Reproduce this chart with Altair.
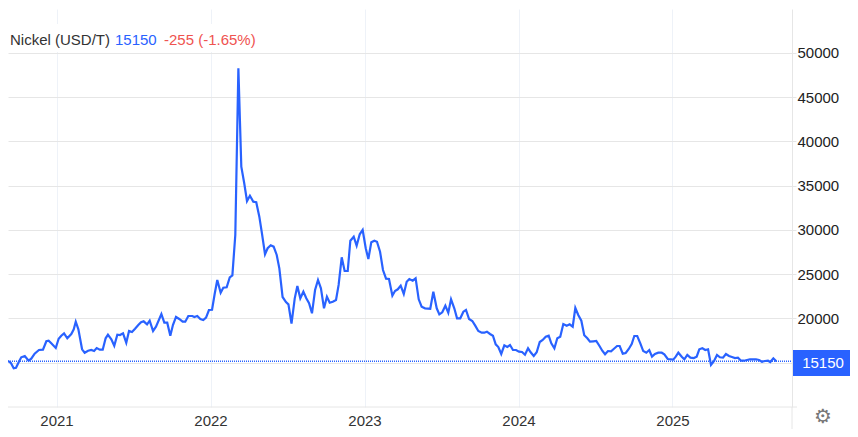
import altair as alt
import pandas as pd

years = [
2020.685,2020.703,2020.722,2020.737,2020.755,2020.771,2020.794,2020.819,2020.836,2020.858,2020.886,2020.912,2020.934,2020.949,2020.966,2020.995,
2021.014,2021.031,2021.049,2021.070,2021.096,2021.112,2021.125,2021.142,2021.166,2021.183,2021.205,2021.226,2021.244,2021.261,2021.281,2021.300,2021.319,2021.334,2021.356,2021.375,2021.395,2021.412,2021.432,2021.453,2021.471,2021.490,
2021.510,2021.531,2021.549,2021.566,2021.588,2021.605,2021.627,2021.646,2021.681,2021.700,2021.719,2021.739,2021.756,2021.776,2021.797,2021.819,2021.836,2021.856,2021.882,2021.895,2021.914,2021.934,2021.953,2021.971,2021.990,
2022.010,2022.027,2022.044,2022.066,2022.083,2022.105,2022.125,2022.142,2022.161,2022.181,2022.200,2022.219,2022.237,2022.256,2022.278,2022.297,2022.317,2022.334,2022.354,2022.371,2022.391,2022.410,2022.430,2022.447,2022.468,2022.490,2022.506,2022.526,2022.547,2022.564,2022.583,2022.603,2022.622,2022.640,2022.659,2022.679,2022.698,2022.717,2022.737,2022.756,2022.774,2022.794,2022.815,2022.832,2022.852,2022.871,2022.891,2022.908,2022.930,2022.949,2022.969,2022.988,
2023.008,2023.025,2023.044,2023.064,2023.081,2023.101,2023.120,2023.140,2023.159,2023.181,2023.198,2023.216,2023.235,2023.255,2023.274,2023.291,2023.313,2023.332,2023.352,2023.371,2023.393,2023.427,2023.447,2023.469,2023.486,2023.505,2023.525,2023.544,2023.562,2023.583,2023.601,2023.622,2023.642,2023.659,2023.679,2023.700,2023.719,2023.739,2023.761,2023.778,2023.795,2023.815,2023.834,2023.852,2023.869,2023.888,2023.908,2023.927,2023.945,2023.964,2023.984,
2024.003,2024.023,2024.042,2024.062,2024.079,2024.099,2024.118,2024.138,2024.157,2024.177,2024.196,2024.213,2024.233,2024.252,2024.271,2024.291,2024.313,2024.332,2024.352,2024.369,2024.388,2024.408,2024.427,2024.447,2024.464,2024.486,2024.505,2024.525,2024.544,2024.562,2024.581,2024.601,2024.620,2024.640,2024.657,2024.677,2024.696,2024.716,2024.735,2024.752,2024.771,2024.791,2024.810,2024.830,2024.849,2024.867,2024.886,2024.908,2024.930,2024.947,2024.969,
2025.005,2025.021,2025.038,2025.060,2025.077,2025.096,2025.116,2025.138,2025.157,2025.174,2025.194,2025.213,2025.231,2025.250,2025.270,2025.289,2025.308,2025.328,2025.347,2025.367,2025.386,2025.406,2025.425,2025.445,2025.464,2025.484,2025.503,2025.542,2025.562,2025.581,2025.601,2025.620,2025.635,2025.655,2025.674]

prices = [
15170,14980,14350,14410,15060,15590,15740,15205,15430,16000,16415,16450,17400,17470,17170,16640,
17690,18030,18300,17740,18225,18755,19615,18755,16495,16110,16335,16415,16300,16640,16450,16450,17740,18145,17625,16900,18145,18110,18300,17240,18565,18450,
18825,19240,19550,19660,19320,19730,18565,19050,20485,19500,19500,18030,19240,20150,19920,19615,19615,20260,20260,20150,20260,19920,19810,20070,20940,
20970,22750,24330,22895,23460,23505,24635,24860,29420,48270,37140,35270,33260,33860,33185,33120,31490,29610,27240,27920,28255,28100,27160,25650,22410,21840,21580,19410,22260,23650,22260,23010,22260,21700,20565,23200,24330,23390,21130,22440,21765,21880,22070,23770,26900,25350,25350,28775,29230,28210,29500,29985,
27915,26705,28595,28775,28660,27530,25460,24480,24445,22555,23090,23280,23690,22750,24140,24445,24250,24525,22150,21310,21130,21085,23010,21130,20450,20680,21425,20630,22150,21130,20000,20000,20750,20940,19920,19695,19165,18565,18370,18370,18485,18225,18030,17060,16755,15965,16945,16755,16980,16415,16415,
16225,16190,15885,16610,16155,15740,16155,17320,17545,17920,18030,17170,16610,17740,17920,19355,19165,19320,19050,21165,20375,19730,18080,17740,17355,17400,17435,16900,16335,15930,16300,16270,16560,16870,16870,16000,16075,16530,17095,18000,18000,17170,16300,16110,16415,15660,15965,16110,16110,15930,15400,
15320,15660,16110,15660,15365,15850,15545,15510,15660,16495,16610,16415,16495,14720,15170,15850,15590,15545,15965,15740,15625,15510,15545,15205,15205,15285,15365,15365,15285,15090,15170,15205,15060,15480,15150]

x_ticks = [2021, 2022, 2023, 2024, 2025]
y_ticks = [15000, 20000, 25000, 30000, 35000, 40000, 45000, 50000]
last_price = [15150]

FONT = "Liberation Sans"
BLUE = "#2962ff"
GRID = "#e6e6e6"
one = pd.DataFrame({"a": [0]})

x_scale = alt.Scale(domain=[2020.685, 2025.776], nice=False, zero=False)
y_scale = alt.Scale(domain=[9970, 54975], nice=False, zero=False)

y_axis = alt.Axis(
    orient="right", values=y_ticks, format="d", grid=True, gridColor=GRID, gridWidth=1,
    domain=True, domainColor=GRID, ticks=True, tickColor=GRID, tickSize=4,
    labelFont=FONT, labelFontSize=15, labelColor="#222222", labelPadding=1,
    labelExpr="datum.value == 15000 ? '' : datum.label", labelOverlap=False)

line = alt.Chart(pd.DataFrame({"year": years, "price": prices})).mark_line(
    color=BLUE, strokeWidth=2.2, clip=True
).encode(
    x=alt.X("year:Q", scale=x_scale, title=None, axis=alt.Axis(
        values=x_ticks, format="d", grid=True, gridColor="#eef2f8", gridWidth=1,
        domain=False, ticks=False, labelFont=FONT, labelFontSize=15, labelColor="#333333",
        labelPadding=6, labelFlush=False, labelOverlap=False)),
    y=alt.Y("price:Q", scale=y_scale, title=None, axis=y_axis),
)

def rule(x, x2, y, y2, color=GRID):
    return alt.Chart(one).mark_rule(color=color, strokeWidth=1).encode(
        x=alt.value(x), x2=alt.value(x2), y=alt.value(y), y2=alt.value(y2))

def label(s, x, y, color, align="left", size=15, base="alphabetic", font=FONT):
    return alt.Chart(one).mark_text(
        text=s, align=align, baseline=base, font=font, fontSize=size, color=color
    ).encode(x=alt.value(x), y=alt.value(y))

title_bg = alt.Chart(one).mark_rect(color="white").encode(
    x=alt.value(0), x2=alt.value(250), y=alt.value(15), y2=alt.value(43))

price_line = alt.Chart(pd.DataFrame({"price": last_price})).mark_rule(
    color=BLUE, strokeWidth=1.4, strokeDash=[1, 1]
).encode(y=alt.Y("price:Q", scale=y_scale, title=None, axis=y_axis), x=alt.value(0), x2=alt.value(784))

box = alt.Chart(one).mark_rect(color=BLUE).encode(
    x=alt.value(785), x2=alt.value(842), y=alt.value(341), y2=alt.value(367))

chart = alt.layer(
    title_bg,
    rule(0, 789, 398, 398),
    rule(784, 784, 398, 420),
    line,
    price_line,
    label("Nickel (USD/T)", 2, 36, "#333333"),
    label("15150", 107, 36, BLUE),
    label("-255 (-1.65%)", 156, 36, "#ef5350"),
    box,
    label("15150", 815, 354, "white", "center", 15, "middle"),
    label("\u2699", 815, 408, "#777777", "center", 20, "middle", "DejaVu Sans"),
).properties(
    width=784, height=398,
    padding={"left": 0, "top": 1, "right": 58, "bottom": 22},
    autosize=alt.AutoSizeParams(type="none"),
).configure_view(stroke=None)

chart.save("out.html", embed_options={"renderer": "svg", "actions": False})
